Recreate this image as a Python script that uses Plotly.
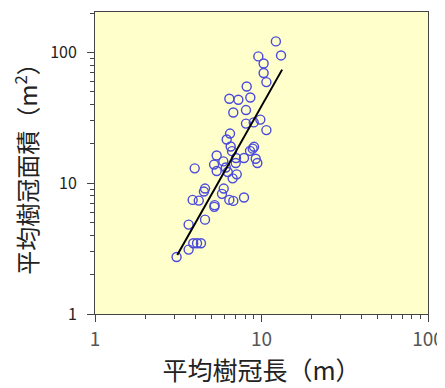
import plotly.graph_objects as go

# Mean crown length (m) and mean crown area (m^2)
crown_length = [12.2, 13.1, 9.57, 10.3, 10.3, 10.7, 8.15, 8.57, 6.41, 7.26,
                6.77, 8.07, 8.07, 8.98, 9.84, 10.7, 6.47, 6.18, 6.53, 6.65,
                9.02, 8.85, 8.53, 5.38, 7.03, 7.85, 9.23, 9.44, 5.90, 5.19,
                3.97, 7.00, 6.10, 5.38, 6.27, 7.10, 6.71, 5.93, 4.58, 4.51,
                5.79, 7.85, 6.41, 6.77, 3.86, 4.20, 5.23, 5.21, 4.58, 3.65,
                3.89, 4.10, 4.33, 3.65, 3.09]
crown_area = [121.6, 95.0, 93.4, 82.5, 69.7, 59.4, 55.0, 45.3, 44.3, 43.5,
              34.8, 36.3, 28.6, 29.2, 30.7, 25.5, 24.0, 21.6, 19.1, 17.6,
              19.0, 18.4, 17.7, 16.3, 15.6, 15.6, 15.4, 14.3, 14.7, 13.9,
              13.0, 14.3, 13.2, 12.4, 12.2, 11.7, 10.9, 9.11, 9.11, 8.64,
              8.30, 7.78, 7.46, 7.33, 7.46, 7.37, 6.80, 6.60, 5.27, 4.83,
              3.48, 3.48, 3.48, 3.11, 2.73]

# Regression line end points
fit_x = [3.12, 13.3]
fit_y = [2.83, 74.0]

major_ticks = [1, 10, 100]
major_text = ["1", "10", "100"]
minor_ticks = [2, 3, 4, 5, 6, 7, 8, 9, 20, 30, 40, 50, 60, 70, 80, 90, 200]

x_title = "平均樹冠長（m）"
y_title = "平均樹冠面積（m<sup>2</sup>）"

font_family = "Noto Sans CJK JP"
axis_col = "#444"

fig = go.Figure()
fig.add_trace(go.Scatter(
    x=crown_length, y=crown_area, mode="markers",
    marker=dict(symbol="circle-open", size=9, color="#4A4ADC",
                line=dict(width=1.4, color="#4A4ADC")),
    showlegend=False))
fig.add_trace(go.Scatter(
    x=fit_x, y=fit_y, mode="lines",
    line=dict(color="black", width=2), showlegend=False))
# invisible trace so that the minor-tick overlay axes are drawn
fig.add_trace(go.Scatter(
    x=fit_x, y=fit_y, mode="lines", xaxis="x2", yaxis="y2",
    line=dict(color="rgba(0,0,0,0)", width=0), hoverinfo="skip", showlegend=False))

axis_common = dict(
    type="log", showgrid=False, zeroline=False, automargin=False,
    showline=True, linecolor=axis_col, linewidth=1, mirror=True,
    ticks="outside", ticklen=7, tickcolor=axis_col,
    tickvals=major_ticks, ticktext=major_text,
)
minor_common = dict(
    type="log", showgrid=False, zeroline=False, automargin=False,
    showline=False, ticks="outside", ticklen=4, tickcolor=axis_col,
    tickvals=minor_ticks, showticklabels=False,
)

x_range = [0, 2]
y_range = [0, 2.31]

fig.update_layout(
    width=437, height=380,
    margin=dict(l=87, r=17, t=4, b=74),
    paper_bgcolor="white", plot_bgcolor="#FFFFCC",
    font=dict(family=font_family),
    xaxis=dict(axis_common, range=x_range, ticklabelstandoff=1,
               tickfont=dict(family=font_family, size=19, color="#555"),
               title=dict(text=x_title, font=dict(family=font_family, size=25, color="#222"),
                          standoff=11)),
    yaxis=dict(axis_common, range=y_range, ticklabelstandoff=7,
               tickfont=dict(family=font_family, size=16, color="#222"),
               title=dict(text=y_title,
                          font=dict(family=font_family, size=24, color="#222"), standoff=6)),
    xaxis2=dict(minor_common, range=x_range, overlaying="x", side="bottom", anchor="y2"),
    yaxis2=dict(minor_common, range=y_range, overlaying="y", side="left", anchor="x2"),
)

fig.write_html("out.html")
